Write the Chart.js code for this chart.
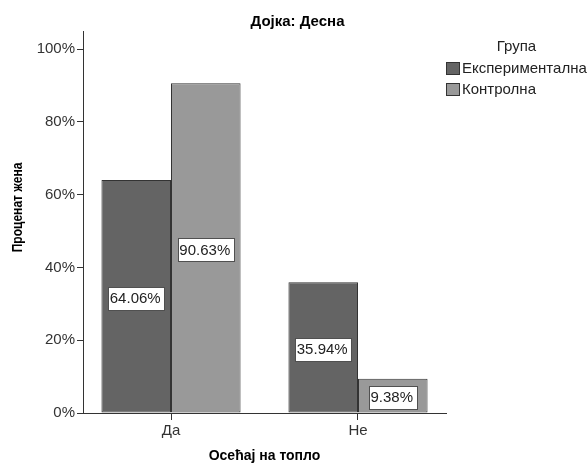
<!DOCTYPE html>
<html>
<head>
<meta charset="utf-8">
<script src="https://cdn.jsdelivr.net/npm/chart.js@4/dist/chart.umd.min.js"></script>
<style>
  html, body { margin: 0; padding: 0; background: #ffffff; }
  canvas { display: block; }
</style>
</head>
<body>
<canvas id="chart" width="587" height="463"></canvas>
<script>
// Categories on the x axis and percentage values per group
const categories = ['Да', 'Не'];
const groupNames = ['Експериментална', 'Контролна'];
const experimentalValues = [64.06, 35.94];
const controlValues = [90.63, 9.38];
const yTicks = [0, 20, 40, 60, 80, 100];

const chartTitle = 'Дојка: Десна';
const legendTitle = 'Група';
const xTitle = 'Осећај на топло';
const yTitle = 'Проценат жена';

const FONT = '"Liberation Sans", Arial, sans-serif';
const INK = '#333333';
const BAR_EDGE = '#333333';

Chart.defaults.font.family = FONT;

function toPoints(values) {
  return values.map((v, i) => ({ x: i, y: v }));
}

// Title, legend, y-axis title and value boxes drawn on top of the chart
const annotations = {
  id: 'annotations',
  afterDatasetsDraw(chart) {
    const { ctx } = chart;
    ctx.save();

    // value labels in white boxes at the middle of each bar
    ctx.font = '15px ' + FONT;
    ctx.textBaseline = 'middle';
    ctx.textAlign = 'center';
    chart.data.datasets.forEach((ds, di) => {
      const meta = chart.getDatasetMeta(di);
      meta.data.forEach((bar, i) => {
        const text = ds.data[i].y.toFixed(2) + '%';
        const tw = ctx.measureText(text).width;
        const cx = bar.x;
        const cy = (bar.y + bar.base) / 2 + 2;
        const w = Math.round(tw + 5);
        const h = 23;
        const left = Math.round(cx - w / 2) + 0.5;
        const top = Math.round(cy - h / 2) + 0.5;
        ctx.fillStyle = '#ffffff';
        ctx.fillRect(left, top, w, h);
        ctx.strokeStyle = '#505050';
        ctx.lineWidth = 1;
        ctx.strokeRect(left, top, w, h);
        ctx.fillStyle = '#222222';
        ctx.fillText(text, cx - 1, cy + 0.5);
      });
    });
    ctx.restore();
  },
  afterDraw(chart) {
    const { ctx, chartArea } = chart;
    ctx.save();

    // chart title
    ctx.fillStyle = '#000000';
    ctx.font = 'bold 15px ' + FONT;
    ctx.textAlign = 'center';
    ctx.textBaseline = 'middle';
    ctx.fillText(chartTitle, 297.5, 21.5);

    // legend
    const lx = chartArea.right;
    ctx.font = '15px ' + FONT;
    ctx.fillStyle = '#222222';
    ctx.fillText(legendTitle, lx + 70.5, 46.5);
    ctx.textAlign = 'left';
    chart.data.datasets.forEach((ds, di) => {
      const y = 62 + di * 21;
      ctx.fillStyle = ds.backgroundColor;
      ctx.fillRect(lx, y, 14, 13);
      ctx.strokeStyle = BAR_EDGE;
      ctx.lineWidth = 1;
      ctx.strokeRect(lx + 0.5, y + 0.5, 13, 12);
      ctx.fillStyle = '#222222';
      ctx.fillText(ds.label, lx + 16, y + 7);
    });

    // y-axis title, rotated
    ctx.translate(18, 207.5);
    ctx.rotate(-Math.PI / 2);
    ctx.scale(0.86, 1);
    ctx.font = 'bold 14px ' + FONT;
    ctx.textAlign = 'center';
    ctx.fillStyle = '#000000';
    ctx.fillText(yTitle, 0, 0);

    ctx.restore();
  }
};

new Chart(document.getElementById('chart'), {
  type: 'bar',
  data: {
    datasets: [
      {
        label: groupNames[0],
        data: toPoints(experimentalValues),
        backgroundColor: '#646464',
        borderColor: BAR_EDGE,
        borderWidth: 1,
        borderSkipped: false,
        inflateAmount: 0
      },
      {
        label: groupNames[1],
        data: toPoints(controlValues),
        backgroundColor: '#999999',
        borderColor: BAR_EDGE,
        borderWidth: 1,
        borderSkipped: false,
        inflateAmount: 0
      }
    ]
  },
  options: {
    responsive: false,
    animation: false,
    events: [],
    categoryPercentage: 0.744,
    barPercentage: 1.0,
    layout: { padding: { left: 0, right: 141, top: 31, bottom: 0 } },
    plugins: {
      legend: { display: false },
      title: { display: false },
      tooltip: { enabled: false }
    },
    scales: {
      x: {
        type: 'linear',
        min: -0.4706,
        max: 1.4706,
        offset: false,
        afterBuildTicks(scale) {
          scale.ticks = categories.map((_, i) => ({ value: i }));
        },
        afterFit(scale) { scale.height = 50; },
        ticks: {
          callback: (v) => categories[v] ?? '',
          font: { size: 15 },
          color: INK,
          padding: 2,
          maxRotation: 0,
          autoSkip: false
        },
        grid: {
          offset: false,
          drawOnChartArea: false,
          drawTicks: true,
          tickLength: 7,
          color: INK,
          lineWidth: 1
        },
        border: { display: true, color: INK, width: 1 },
        title: {
          display: true,
          text: xTitle,
          color: '#000000',
          font: { size: 14, weight: 'bold', lineHeight: 1 },
          padding: { top: 0, bottom: 0 }
        }
      },
      y: {
        min: 0,
        max: 105,
        afterBuildTicks(scale) {
          scale.ticks = yTicks.map((v) => ({ value: v }));
        },
        afterFit(scale) { scale.width = 83; },
        ticks: {
          callback: (v) => v + '%',
          font: { size: 15 },
          color: INK,
          padding: 2
        },
        grid: {
          drawOnChartArea: false,
          drawTicks: true,
          tickLength: 6,
          color: INK,
          lineWidth: 1
        },
        border: { display: true, color: INK, width: 1 }
      }
    }
  },
  plugins: [annotations]
});
</script>
</body>
</html>
